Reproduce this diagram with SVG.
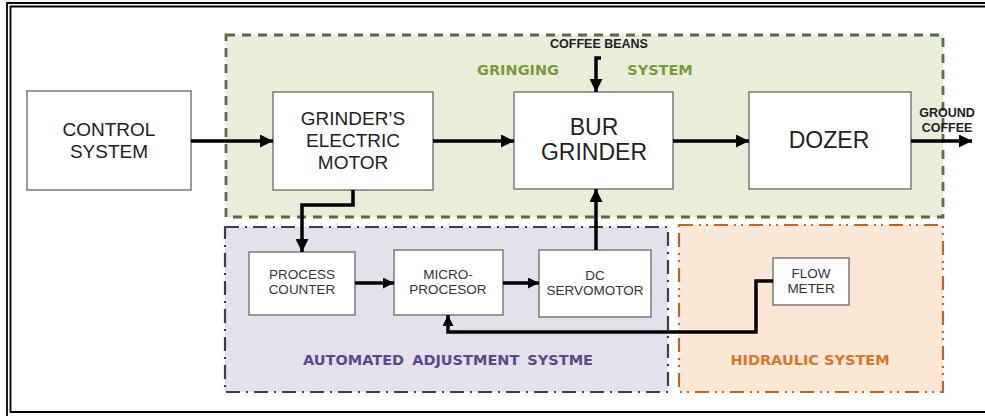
<svg xmlns="http://www.w3.org/2000/svg" width="985" height="416" viewBox="0 0 985 416">
<defs>
<marker id="ah" viewBox="0 0 10 10" refX="10" refY="5" markerWidth="11" markerHeight="11" markerUnits="userSpaceOnUse" orient="auto">
<path d="M0,0 L10,5 L0,10 z" fill="#000"/>
</marker>
<marker id="ah2" viewBox="0 0 10 10" refX="10" refY="5" markerWidth="13" markerHeight="13" markerUnits="userSpaceOnUse" orient="auto">
<path d="M0,0 L10,5 L0,10 z" fill="#000"/>
</marker>
</defs>
<style>
.box{fill:#fff;stroke:#7a7a7a;stroke-width:1.5}
.big{font-family:"Liberation Sans",Arial,sans-serif;fill:#222;text-anchor:middle}
.small{font-family:"Liberation Sans",Arial,sans-serif;font-size:13.5px;fill:#333;text-anchor:middle}
.lbl{font-family:"DejaVu Sans",Verdana,sans-serif;font-weight:bold;font-size:14.5px}
.conn{fill:none;stroke:#000;stroke-width:3.5}
.frame{fill:none;stroke:#000;stroke-width:1.8}
</style>
<rect width="985" height="416" fill="#fff"/>
<g id="frame">
<path class="frame" d="M985,3 H7 V416"/>
<path class="frame" d="M985,6.5 H10.5 V412 H985"/>
</g>
<g id="grinding-system">
<rect x="226" y="35" width="717" height="182" fill="#e9eedb" stroke="#5b6b43" stroke-width="2.8" stroke-dasharray="9,7"/>
<text class="lbl" x="518" y="75" fill="#7a9a3c" text-anchor="middle">GRINGING</text>
<text class="lbl" x="660" y="75" fill="#7a9a3c" text-anchor="middle">SYSTEM</text>
</g>
<g id="automated-adjustment">
<rect x="225" y="227" width="443" height="165" fill="#e4e0ec" stroke="#3e3e4e" stroke-width="2.2" stroke-dasharray="14,6,2,6"/>
<text class="lbl" x="448" y="365" fill="#5b4a8a" text-anchor="middle" word-spacing="3">AUTOMATED ADJUSTMENT SYSTME</text>
</g>
<g id="hydraulic-system">
<rect x="679" y="225" width="264" height="167" fill="#fbe7d6" stroke="#b8682a" stroke-width="2.2" stroke-dasharray="14,6,2,5,2,6"/>
<text class="lbl" x="810" y="365" fill="#d4782a" text-anchor="middle">HIDRAULIC SYSTEM</text>
</g>
<g id="control-system">
<rect class="box" x="27" y="91" width="164" height="99"/>
<text class="big" font-size="19" x="109" y="136">CONTROL</text>
<text class="big" font-size="19" x="109" y="158">SYSTEM</text>
</g>
<g id="grinder-motor">
<rect class="box" x="273" y="92" width="160" height="98"/>
<text class="big" font-size="19" x="353" y="125">GRINDER’S</text>
<text class="big" font-size="19" x="353" y="147">ELECTRIC</text>
<text class="big" font-size="19" x="353" y="169">MOTOR</text>
</g>
<g id="bur-grinder">
<rect class="box" x="514" y="92" width="159" height="97"/>
<text class="big" font-size="23" x="594" y="135">BUR</text>
<text class="big" font-size="23" x="594" y="160">GRINDER</text>
</g>
<g id="dozer">
<rect class="box" x="749" y="92" width="162" height="97"/>
<text class="big" font-size="23" x="829" y="148">DOZER</text>
</g>
<g id="process-counter">
<rect class="box" x="249" y="252" width="106" height="63"/>
<text class="small" x="302" y="279">PROCESS</text>
<text class="small" x="302" y="294">COUNTER</text>
</g>
<g id="microprocessor">
<rect class="box" x="394" y="250" width="109" height="65"/>
<text class="small" x="448" y="279">MICRO-</text>
<text class="small" x="448" y="294">PROCESOR</text>
</g>
<g id="dc-servomotor">
<rect class="box" x="539" y="250" width="112" height="67"/>
<text class="small" x="595" y="280">DC</text>
<text class="small" x="595" y="295">SERVOMOTOR</text>
</g>
<g id="flow-meter">
<rect class="box" x="773" y="258" width="76" height="47"/>
<text class="small" x="811" y="278">FLOW</text>
<text class="small" x="811" y="293">METER</text>
</g>
<g id="io-labels">
<text font-family="'Liberation Sans',Arial,sans-serif" font-weight="bold" font-size="12.5" fill="#222" text-anchor="middle" x="599" y="48">COFFEE BEANS</text>
<text font-family="'Liberation Sans',Arial,sans-serif" font-weight="bold" font-size="12.5" fill="#222" text-anchor="middle" x="947" y="117">GROUND</text>
<text font-family="'Liberation Sans',Arial,sans-serif" font-weight="bold" font-size="12.5" fill="#222" text-anchor="middle" x="947" y="132">COFFEE</text>
</g>
<g id="connectors">
<path class="conn" d="M191,141 H273" marker-end="url(#ah2)"/>
<path class="conn" d="M433,141 H514" marker-end="url(#ah2)"/>
<path class="conn" d="M673,141 H749" marker-end="url(#ah2)"/>
<path class="conn" d="M911,141 H972" marker-end="url(#ah2)"/>
<path class="conn" d="M601,58 H596 V92" marker-end="url(#ah2)"/>
<path class="conn" d="M596,250 V189" marker-end="url(#ah2)"/>
<path class="conn" d="M353,190 V205 H302 V252" marker-end="url(#ah2)"/>
<path class="conn" d="M355,283 H394" marker-end="url(#ah)"/>
<path class="conn" d="M503,283 H539" marker-end="url(#ah)"/>
<path class="conn" d="M773,281 H756 V332 H448 V315" stroke-width="3" marker-end="url(#ah)"/>
</g>
</svg>
